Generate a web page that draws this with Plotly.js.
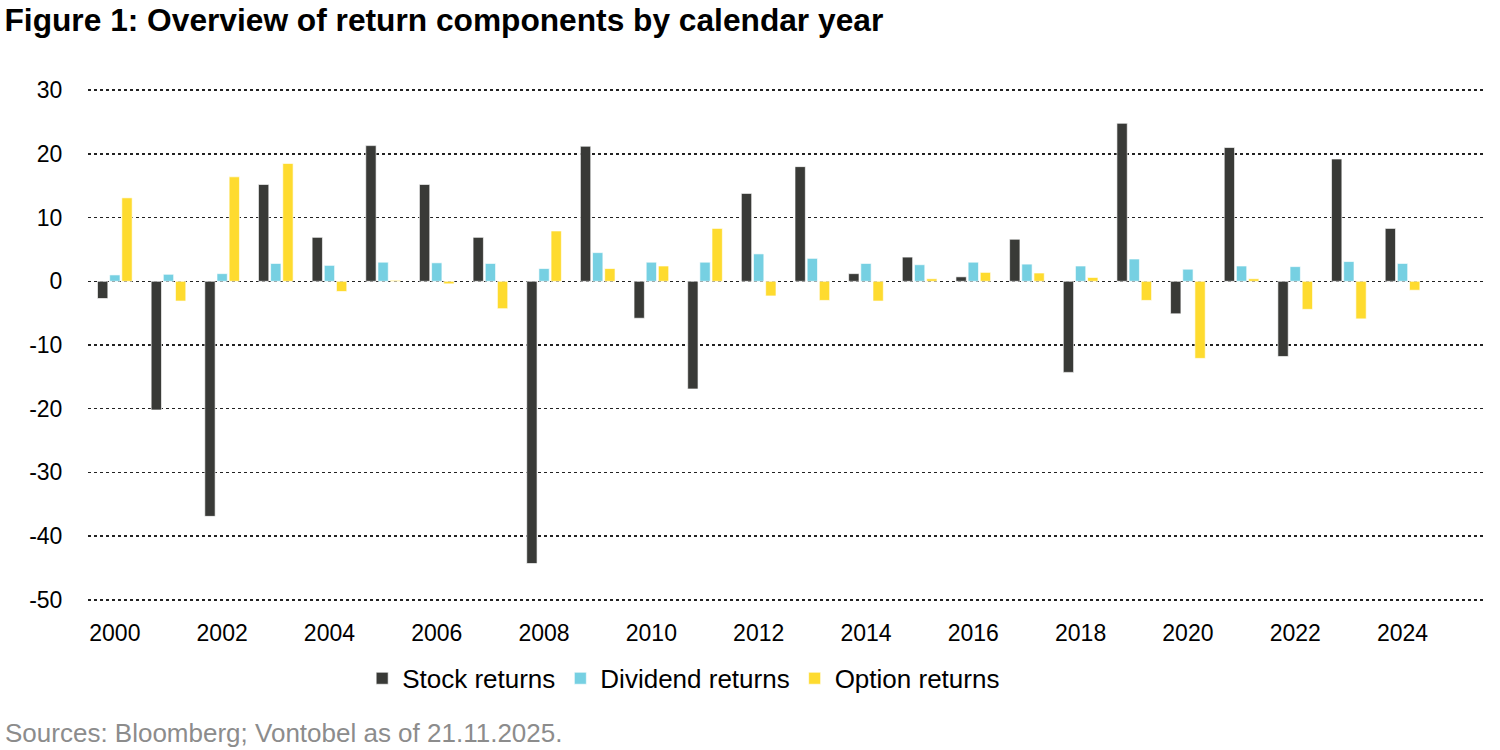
<!DOCTYPE html>
<html>
<head>
<meta charset="utf-8">
<script src="https://cdn.plot.ly/plotly-3.0.1.min.js"></script>
<style>
  html, body { margin: 0; padding: 0; background: #fff; }
  #chart { width: 1500px; height: 750px; }
</style>
</head>
<body>
<div id="chart"></div>
<script>
// calendar years
let years = [2000, 2001, 2002, 2003, 2004, 2005, 2006, 2007, 2008, 2009, 2010, 2011, 2012,
             2013, 2014, 2015, 2016, 2017, 2018, 2019, 2020, 2021, 2022, 2023, 2024]

let stockReturns = [-2.7, -20.2, -36.9, 15.2, 6.9, 21.3, 15.2, 6.9, -44.3, 21.2, -5.8, -16.9, 13.8,
                    18.0, 1.2, 3.8, 0.7, 6.6, -14.3, 24.8, -5.1, 21.0, -11.8, 19.2, 8.3]
let dividendReturns = [1.0, 1.1, 1.2, 2.8, 2.5, 3.0, 2.9, 2.8, 2.0, 4.5, 3.0, 3.0, 4.3,
                       3.6, 2.8, 2.6, 3.0, 2.7, 2.4, 3.5, 1.9, 2.4, 2.3, 3.1, 2.8]
let optionReturns = [13.1, -3.1, 16.4, 18.5, -1.6, 0.15, -0.4, -4.3, 7.9, 2.0, 2.4, 8.3, -2.3,
                     -3.0, -3.1, 0.4, 1.4, 1.3, 0.6, -3.0, -12.1, 0.4, -4.4, -5.9, -1.4]

let tickYears = [2000, 2002, 2004, 2006, 2008, 2010, 2012, 2014, 2016, 2018, 2020, 2022, 2024]
let yTicks = [30, 20, 10, 0, -10, -20, -30, -40, -50]
let yTickText = ['30', '20', '10', '0', '-10', '-20', '-30', '-40', '-50']

let font = 'Liberation Sans, Arial, sans-serif'
let edge = { color: 'rgba(255,255,255,0.8)', width: 0.8 }

let traces = [
    { x: years, y: stockReturns, name: 'Stock returns', type: 'bar',
      marker: { color: '#393a37', line: edge } },
    { x: years, y: dividendReturns, name: 'Dividend returns', type: 'bar',
      marker: { color: '#76d0e2', line: edge } },
    { x: years, y: optionReturns, name: 'Option returns', type: 'bar',
      marker: { color: '#fedb2f', line: edge } }
]

let layout = {
    width: 1500,
    height: 750,
    margin: { l: 88, r: 17, t: 87, b: 147 },
    paper_bgcolor: '#fff',
    plot_bgcolor: '#fff',
    font: { family: font, size: 22, color: '#000' },
    barmode: 'group',
    bargap: 0.32,
    bargroupgap: 0.15,
    title: {
        text: '<b>Figure 1: Overview of return components by calendar year</b>',
        font: { family: font, size: 31.7, color: '#000' },
        x: 0.003, xanchor: 'left', xref: 'container',
        y: 0.973, yanchor: 'middle', yref: 'container'
    },
    xaxis: {
        range: [1999.5, 2025.5],
        tickvals: tickYears,
        ticktext: tickYears.map(String),
        ticks: 'outside', ticklen: 9, tickcolor: 'rgba(0,0,0,0)',
        showgrid: false, zeroline: false, showline: false,
        tickfont: { size: 23 }
    },
    yaxis: {
        range: [-50.5, 30.5],
        tickvals: yTicks,
        ticktext: yTickText,
        ticks: 'outside', ticklen: 20, tickcolor: 'rgba(0,0,0,0)',
        showgrid: true, gridcolor: '#222', gridwidth: 1.5, griddash: 'dot',
        zeroline: false, showline: false,
        tickfont: { size: 23 }
    },
    showlegend: true,
    legend: {
        orientation: 'h',
        x: 0.427, xanchor: 'center',
        y: -0.146, yanchor: 'middle',
        font: { size: 26 },
        itemwidth: 30,
        traceorder: 'normal'
    },
    annotations: [{
        text: 'Sources: Bloomberg; Vontobel as of 21.11.2025.',
        xref: 'paper', yref: 'paper',
        x: -0.061, xanchor: 'left',
        y: -0.252, yanchor: 'middle',
        showarrow: false,
        font: { family: font, size: 26, color: '#8c8c8c' }
    }]
}

Plotly.newPlot('chart', traces, layout, { displayModeBar: false, staticPlot: true })
</script>
</body>
</html>
